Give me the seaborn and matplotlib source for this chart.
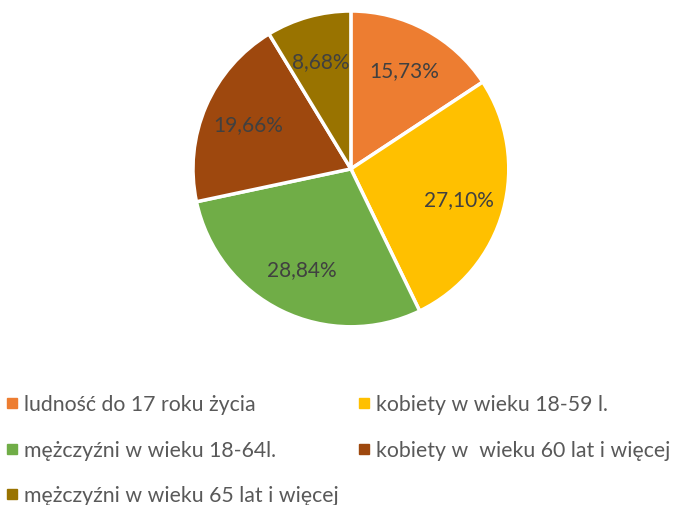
import matplotlib
matplotlib.use("Agg")
import matplotlib.pyplot as plt
from matplotlib.lines import Line2D
import numpy as np
import seaborn as sns

# dane
kategorie = ['ludność do 17 roku życia', 'kobiety w wieku 18-59 l.',
             'mężczyźni w wieku 18-64l.', 'kobiety w  wieku 60 lat i więcej',
             'mężczyźni w wieku 65 lat i więcej']
udzialy = [15.73, 27.10, 28.84, 19.66, 8.68]
kolory = ['#ED7D31', '#FFC000', '#70AD47', '#9E480E', '#997300']

sns.set_theme(style="white")
plt.rcParams['font.family'] = ['Lato', 'DejaVu Sans']
paleta = sns.color_palette(kolory)

fig = plt.figure(figsize=(6.82, 5.06), dpi=100)
ax = fig.add_axes([0.283, 0.352, 0.463, 0.6245])

etykiety = [f"{v:.2f}%".replace('.', ',') for v in udzialy]
wedges, _ = ax.pie(udzialy, colors=paleta, startangle=90, counterclock=False,
                   wedgeprops=dict(edgecolor='white', linewidth=2.5))
# etykiety procentowe
kat = 90.0
suma = sum(udzialy)
for v, t in zip(udzialy, etykiety):
    srodek = kat - v / suma * 360 / 2
    kat -= v / suma * 360
    r = 0.71
    ax.text(r * np.cos(np.radians(srodek)), r * np.sin(np.radians(srodek)), t,
            ha='center', va='center', fontsize=15, color='#404040')
ax.set_xlim(-1, 1)
ax.set_ylim(-1, 1)

# legenda
kolejnosc = [0, 2, 4, 1, 3]
uchwyty = [Line2D([], [], marker='s', linestyle='', markersize=7,
                  markerfacecolor=paleta[i], markeredgecolor=paleta[i])
           for i in kolejnosc]
fig.legend(uchwyty, [kategorie[i] for i in kolejnosc], ncol=2,
           loc='upper left', bbox_to_anchor=(0.0, 0.231), frameon=False,
           fontsize=15.3, labelcolor='#595959', handlelength=0.55,
           handletextpad=0.3, labelspacing=1.2, columnspacing=0.9,
           borderaxespad=0, borderpad=0.3)

fig.savefig('out.png', dpi=100)
